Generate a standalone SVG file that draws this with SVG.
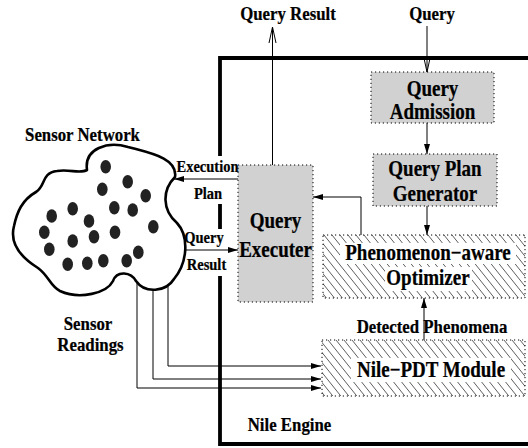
<svg xmlns="http://www.w3.org/2000/svg" width="528" height="448" viewBox="0 0 528 448">
<style>
.t{font-family:"Liberation Serif","Times New Roman",serif;font-weight:bold;text-anchor:middle;fill:#000;stroke:#000;stroke-width:0.2}
.s{font-size:16.8px}
.c{font-size:14.5px}
.b{font-size:19px}
.ln{fill:none;stroke:#000;stroke-width:1}
.dot{stroke:#000;stroke-width:1;stroke-dasharray:1.2 2.8}
.grey{fill:#d1d1d1}
.hbox{fill:url(#hatch)}
.bg{fill:#fff}
.sd{fill:#222}
</style>
<defs>
<pattern id="hatch" patternUnits="userSpaceOnUse" width="8" height="10">
<rect width="8" height="10" fill="#fff"/>
<path d="M0,0 L8,10 M-1,8.75 L1,11.25 M7,-1.25 L9,1.25" stroke="#333" stroke-width="0.8"/>
</pattern>
<marker id="fa" viewBox="0 0 10 6" markerWidth="10" markerHeight="6" refX="10" refY="3" orient="auto" markerUnits="userSpaceOnUse">
<path d="M0,0 L10,3 L0,6 Z" fill="#000"/>
</marker>
<marker id="oa" viewBox="0 0 16 8" markerWidth="16" markerHeight="8" refX="16" refY="4" orient="auto" markerUnits="userSpaceOnUse" overflow="visible">
<path d="M0,0.5 L16,4 L0,7.5" fill="none" stroke="#000" stroke-width="1"/>
</marker>
</defs>

<g id="nile-engine">
<path d="M540,58 H220 V444 H540" fill="none" stroke="#000" stroke-width="3.8"/>
</g>

<g id="label-backgrounds">
<rect class="bg" x="177" y="156" width="63" height="48"/>
<rect class="bg" x="184" y="229" width="53" height="47"/>
</g>

<g id="connectors">
<path class="ln" d="M272.5,165 V27" marker-end="url(#oa)"/>
<path class="ln" d="M427,26 V72" marker-end="url(#oa)"/>
<path class="ln" d="M427,123 V154" marker-end="url(#fa)"/>
<path class="ln" d="M427,206 V235" marker-end="url(#fa)"/>
<path class="ln" d="M361,235 V197 H313" marker-end="url(#fa)"/>
<path class="ln" d="M424,340 V298" marker-end="url(#fa)"/>
<path class="ln" d="M238,179 H174" marker-end="url(#fa)"/>
<path class="ln" d="M180,250 H238" marker-end="url(#fa)"/>
<path class="ln" d="M168,280 V366 H321" marker-end="url(#fa)"/>
<path class="ln" d="M153,280 V379 H321" marker-end="url(#fa)"/>
<path class="ln" d="M137,278 V388 H321" marker-end="url(#fa)"/>
</g>

<g id="sensor-network">
<path d="M87,170 C84,148 108,141 128,147 C150,153 178,158 175,177 C162,190 162,210 177,223 C189,236 188,262 174,279 C166,292 145,294 136,281 C131,272 117,270 113,281 C107,293 80,300 60,291 C50,286 49,276 38,268 C22,258 9,245 14,226 C17,212 22,200 36,192 C46,186 41,173 57,171 C70,169 80,174 87,170 Z" fill="#fff" stroke="#000" stroke-width="2.6" stroke-linejoin="round"/>
<ellipse class="sd" cx="105.7" cy="166.7" rx="5.3" ry="6.8"/>
<ellipse class="sd" cx="127.7" cy="181.7" rx="5.3" ry="6.8"/>
<ellipse class="sd" cx="102.3" cy="189.3" rx="5.3" ry="6.8"/>
<ellipse class="sd" cx="145.7" cy="195.7" rx="5.3" ry="6.8"/>
<ellipse class="sd" cx="72.7" cy="208.7" rx="5.3" ry="6.8"/>
<ellipse class="sd" cx="114.3" cy="207.7" rx="5.3" ry="6.8"/>
<ellipse class="sd" cx="132.7" cy="210" rx="5.3" ry="6.8"/>
<ellipse class="sd" cx="51.7" cy="216" rx="5.3" ry="6.8"/>
<ellipse class="sd" cx="89" cy="221" rx="5.3" ry="6.8"/>
<ellipse class="sd" cx="153.3" cy="226.7" rx="5.3" ry="6.8"/>
<ellipse class="sd" cx="44.3" cy="232.3" rx="5.3" ry="6.8"/>
<ellipse class="sd" cx="115" cy="232.3" rx="5.3" ry="6.8"/>
<ellipse class="sd" cx="94" cy="236.7" rx="5.3" ry="6.8"/>
<ellipse class="sd" cx="72.7" cy="241" rx="5.3" ry="6.8"/>
<ellipse class="sd" cx="49.3" cy="249.3" rx="5.3" ry="6.8"/>
<ellipse class="sd" cx="138.3" cy="252.3" rx="5.3" ry="6.8"/>
<ellipse class="sd" cx="103.3" cy="260.7" rx="5.3" ry="6.8"/>
<ellipse class="sd" cx="126.7" cy="260.7" rx="5.3" ry="6.8"/>
<ellipse class="sd" cx="87.3" cy="263.3" rx="5.3" ry="6.8"/>
<ellipse class="sd" cx="67.7" cy="264.3" rx="5.3" ry="6.8"/>
</g>

<g id="query-admission">
<rect class="grey" x="371" y="72" width="123" height="51"/>
<rect class="dot" x="371" y="72" width="123" height="51" fill="none"/>
<text class="t b" transform="translate(432.5,96) scale(1,1.16)">Query</text>
<text class="t b" transform="translate(432.5,118.5) scale(1,1.16)">Admission</text>
</g>

<g id="query-plan-generator">
<rect class="grey" x="373" y="154" width="124" height="52"/>
<rect class="dot" x="373" y="154" width="124" height="52" fill="none"/>
<text class="t b" transform="translate(435,176) scale(1,1.16)">Query Plan</text>
<text class="t b" transform="translate(435,201) scale(1,1.16)">Generator</text>
</g>

<g id="query-executer">
<rect class="grey" x="238" y="165" width="75" height="137"/>
<rect class="dot" x="238" y="165" width="75" height="137" fill="none"/>
<text class="t b" transform="translate(275.5,228) scale(1,1.16)">Query</text>
<text class="t b" transform="translate(275.5,257) scale(1,1.16)">Executer</text>
</g>

<g id="phenomenon-aware-optimizer">
<rect class="hbox" x="323" y="235" width="202" height="63"/>
<rect class="dot" x="323" y="235" width="202" height="63" fill="none"/>
<rect class="bg" x="340" y="243" width="176" height="21"/>
<rect class="bg" x="385" y="267" width="87" height="24"/>
<text class="t b" transform="translate(428,260) scale(1,1.16)">Phenomenon−aware</text>
<text class="t b" transform="translate(428,285) scale(1,1.16)">Optimizer</text>
</g>

<g id="nile-pdt-module">
<rect class="hbox" x="322" y="340" width="203" height="56"/>
<rect class="dot" x="322" y="340" width="203" height="56" fill="none"/>
<rect class="bg" x="351" y="358" width="160" height="24"/>
<text class="t b" transform="translate(431,377) scale(1,1.16)">Nile−PDT Module</text>
</g>

<g id="labels">
<text class="t s" transform="translate(288,20) scale(1,1.16)">Query Result</text>
<text class="t s" transform="translate(432,20) scale(1,1.16)">Query</text>
<text class="t s" transform="translate(82.5,141) scale(1,1.16)">Sensor Network</text>
<text class="t c" transform="translate(207.5,171.5) scale(1,1.16)">Execution</text>
<text class="t c" transform="translate(208,199) scale(1,1.16)">Plan</text>
<text class="t c" transform="translate(204,243) scale(1,1.16)">Query</text>
<text class="t c" transform="translate(206.5,270) scale(1,1.16)">Result</text>
<text class="t s" transform="translate(432,333) scale(1,1.16)">Detected Phenomena</text>
<text class="t s" transform="translate(88,330) scale(1,1.16)">Sensor</text>
<text class="t s" transform="translate(90.5,351) scale(1,1.16)">Readings</text>
<text class="t s" transform="translate(289.5,431) scale(1,1.16)">Nile Engine</text>
</g>
</svg>
